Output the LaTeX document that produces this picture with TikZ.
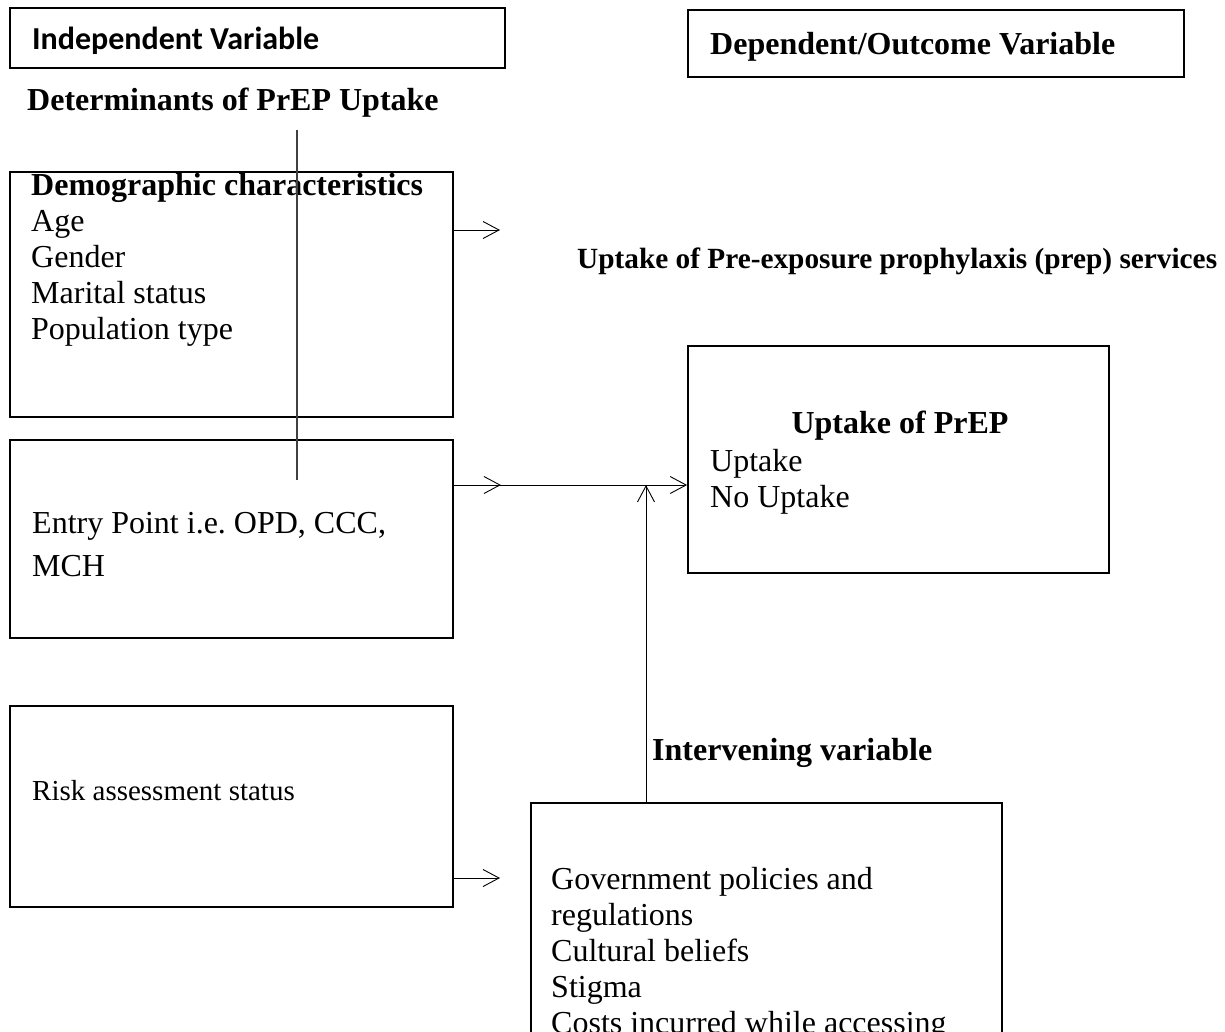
\documentclass[tikz,border=0pt]{standalone}
\usepackage{fontspec}
\setmainfont{Liberation Serif}
\newfontfamily\calibrifont{Carlito}
\usetikzlibrary{arrows.meta,positioning,calc}
\frenchspacing

\begin{document}
\begin{tikzpicture}[x=1pt, y=-1pt,
        box/.style={draw, line width=1.8pt, inner sep=0pt},
        txt/.style={inner sep=0pt, align=left, font=\fontsize{32}{36}\selectfont},
        head/.style={inner sep=0pt, font=\fontsize{32}{36}\selectfont\bfseries},
        barb/.style={-{Straight Barb[length=16pt,width=17pt]}, line width=0.9pt}]
                    \useasboundingbox (0,0) rectangle (1225,1031);
                    \clip (0,0) rectangle (1225,1031);

                    % Headers
                    \node[box, minimum width=495pt, minimum height=60pt] (ivbox) at (257.5,38) {};
                    \node[inner sep=0pt, anchor=base west, font=\calibrifont\bfseries\fontsize{32}{36}\selectfont] (ivtext) at (32,49) {Independent Variable};
                    \node[box, minimum width=496pt, minimum height=67pt] (dvbox) at (936,43.5) {};
                    \node[head, anchor=base west] (dvtext) at (710,54) {Dependent/Outcome Variable};
                    \node[head, anchor=base west] (dettext) at (27,110) {Determinants of PrEP Uptake};

                    % Independent boxes (base = last line)
                    \node[box, minimum width=443pt, minimum height=245pt] (demog) at (231.5,294.5) {};
                    \node[txt, anchor=base west] (demogtext) at (31,339) {\textbf{Demographic characteristics}\\Age\\Gender\\Marital status\\Population type};
                    \node[box, minimum width=443pt, minimum height=198pt] (entry) at (231.5,539) {};
                    \node[txt, anchor=base west] (entrytext) at (32,576) {Entry Point i.e. OPD, CCC,\\[7pt]MCH};
                    \node[box, minimum width=443pt, minimum height=201pt] (risk) at (231.5,806.5) {};
                    \node[txt, anchor=base west, font=\fontsize{29}{34}\selectfont] (risktext) at (32,800) {Risk assessment status};

                    % Outcome
                    \node[head, anchor=base west, font=\fontsize{29.3}{34}\selectfont\bfseries] (servtext) at (577,268) {Uptake of Pre-exposure prophylaxis (prep) services};
                    \node[box, minimum width=421pt, minimum height=227pt] (uptake) at (898.5,459.5) {};
                    \node[head, anchor=base] (uptitle) at (900,433) {Uptake of PrEP};
                    \node[txt, anchor=base west] (uptext) at (710,507) {Uptake\\No Uptake};

                    % Intervening
                    \node[head, anchor=base west] (intvtitle) at (652,760) {Intervening variable};
                    \node[box, minimum width=471pt, minimum height=260pt, anchor=north west] (interv) at (530,802) {};
                    \node[txt, anchor=base west] (intvtext) at (551,1033) {Government policies and\\regulations\\Cultural beliefs\\Stigma\\Costs incurred while accessing};

                    % Connectors
                    \coordinate (dettop) at (297,130);
                    \coordinate (detbot) at (297,480);
                    \coordinate (join) at (646,485);
                    \coordinate (demogtip) at (500,230);
                    \coordinate (risktip) at (500,878);
                    \draw[line width=1.2pt, black!75] (dettop) -- (detbot);
                    \draw[barb] (demog.east |- demogtip) -- (demogtip);
                    \draw[barb] (entry.east |- join) -- ++(47,0);
                    \draw[barb] (entry.east |- join) -- (uptake.west |- join);
                    \draw[barb] (interv.north -| join) -- (join);
                    \draw[barb] (risk.east |- risktip) -- (risktip);
                \end{tikzpicture}
\end{document}
